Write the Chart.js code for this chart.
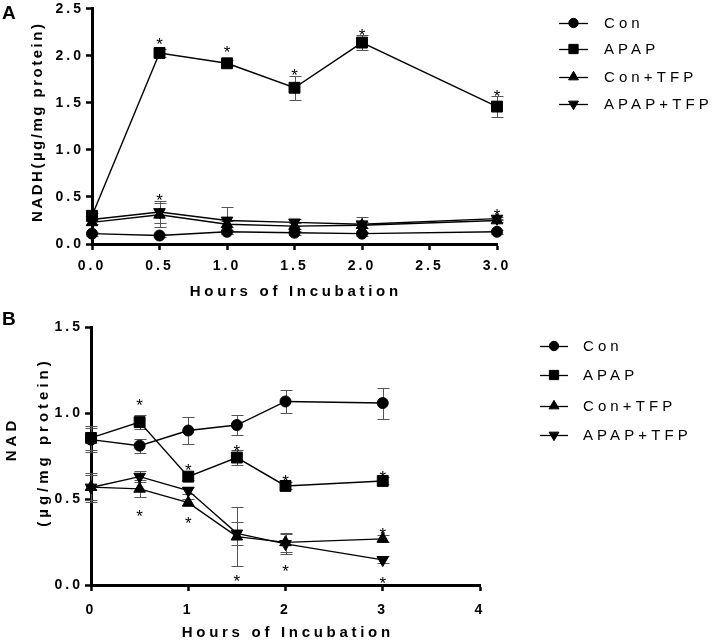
<!DOCTYPE html>
<html><head><meta charset="utf-8">
<script src="https://cdn.jsdelivr.net/npm/chart.js@4.4.0/dist/chart.umd.min.js"></script>
<style>
html,body{margin:0;padding:0;background:#fff;}
#wrap{position:relative;width:714px;height:644px;overflow:hidden;background:#fff;}
canvas{position:absolute;left:0;}
</style></head><body>
<div id="wrap">
<canvas id="cA" width="714" height="310" style="top:0px"></canvas>
<canvas id="cB" width="714" height="336" style="top:308px"></canvas>
</div>
<script>
// ---------- DATA ----------
const seriesNames = ['Con', 'APAP', 'Con+TFP', 'APAP+TFP'];

// Panel A : NADH
const hoursA = [0, 0.5, 1, 1.5, 2, 3];
const nadhCon        = [0.11, 0.09, 0.13, 0.12, 0.11, 0.13];
const nadhConErr     = [0.02, 0.02, 0.02, 0.02, 0.02, 0.02];
const nadhApap       = [0.30, 2.03, 1.92, 1.66, 2.14, 1.46];
const nadhApapErr    = [0.03, 0.04, 0.03, 0.125, 0.08, 0.11];
const nadhConTfp     = [0.23, 0.31, 0.21, 0.19, 0.20, 0.25];
const nadhConTfpErr  = [0.02, 0.13, 0.03, 0.03, 0.03, 0.02];
const nadhApapTfp    = [0.26, 0.34, 0.25, 0.23, 0.21, 0.27];
const nadhApapTfpErr = [0.02, 0.12, 0.14, 0.04, 0.08, 0.02];
const nadhStarX = [0.5, 1, 1.5, 2, 3, 0.5, 3];
const nadhStarY = [2.17, 2.08, 1.84, 2.26, 1.62, 0.51, 0.35];
const xTicksA = ['0.0', '0.5', '1.0', '1.5', '2.0', '2.5', '3.0'];
const yTicksA = ['0.0', '0.5', '1.0', '1.5', '2.0', '2.5'];

// Panel B : NAD
const hoursB = [0, 0.5, 1, 1.5, 2, 3];
const nadCon        = [0.845, 0.81, 0.898, 0.93, 1.067, 1.058];
const nadConErr     = [0.07, 0.04, 0.08, 0.06, 0.065, 0.09];
const nadApap       = [0.855, 0.947, 0.63, 0.741, 0.576, 0.605];
const nadApapErr    = [0.07, 0.04, 0.02, 0.045, 0.02, 0.02];
const nadConTfp     = [0.569, 0.559, 0.479, 0.281, 0.248, 0.268];
const nadConTfpErr  = [0.085, 0.05, 0.02, 0.17, 0.055, 0.02];
const nadApapTfp    = [0.567, 0.63, 0.549, 0.30, 0.239, 0.146];
const nadApapTfpErr = [0.07, 0.03, 0.02, 0.065, 0.06, 0.02];
const nadStarX = [0.5, 0.5, 1, 1, 1.5, 1.5, 2, 2, 3, 3, 3];
const nadStarY = [1.067, 0.423, 0.693, 0.382, 0.80, 0.048, 0.63, 0.107, 0.654, 0.32, 0.033];
const xTicksB = ['0', '1', '2', '3', '4'];
const yTicksB = ['0.0', '0.5', '1.0', '1.5'];

// ---------- STYLE ----------
const FAM = '"Liberation Sans", Arial, Helvetica, sans-serif';
const markers = [
  {pointStyle: 'circle', radius: 5.5, rotation: 0},
  {pointStyle: 'rect', radius: 7.7, rotation: 0},
  {pointStyle: 'triangle', radius: 6.7, rotation: 0},
  {pointStyle: 'triangle', radius: 6.7, rotation: 180}
];

function pts(xs, ys) { return xs.map((x, i) => ({x: x, y: ys[i]})); }
function makeDatasets(xs, list) {
  return list.map((ys, k) => ({
    label: seriesNames[k],
    data: pts(xs, ys),
    showLine: true,
    borderColor: '#000', borderWidth: 1.4, backgroundColor: '#000',
    pointStyle: markers[k].pointStyle,
    pointRadius: markers[k].radius,
    pointHoverRadius: markers[k].radius,
    pointRotation: markers[k].rotation,
    pointBackgroundColor: '#000', pointBorderColor: '#000', pointBorderWidth: 1,
    clip: false, tension: 0
  }));
}

function drawMarker(ctx, m, x, y, scale) {
  const r = m.radius * scale;
  ctx.save();
  ctx.fillStyle = '#000'; ctx.strokeStyle = '#000'; ctx.lineWidth = 1;
  ctx.beginPath();
  if (m.pointStyle === 'circle') {
    ctx.arc(x, y, r, 0, Math.PI * 2);
  } else if (m.pointStyle === 'rect') {
    const s = Math.SQRT1_2 * r;
    ctx.rect(x - s, y - s, 2 * s, 2 * s);
  } else {
    let rad = m.rotation * Math.PI / 180;
    for (let i = 0; i < 3; i++) {
      const px = x + Math.sin(rad) * r, py = y - Math.cos(rad) * r;
      if (i === 0) ctx.moveTo(px, py); else ctx.lineTo(px, py);
      rad += 2 * Math.PI / 3;
    }
    ctx.closePath();
  }
  ctx.fill(); ctx.stroke();
  ctx.restore();
}

const errPlugin = {
  id: 'errbars',
  beforeDatasetsDraw(chart, args, opts) {
    const ctx = chart.ctx, xs = chart.scales.x, ys = chart.scales.y;
    ctx.save();
    ctx.strokeStyle = '#555'; ctx.lineWidth = 1;
    opts.errs.forEach((errs, k) => {
      chart.data.datasets[k].data.forEach((p, i) => {
        const e = errs[i]; if (!e) return;
        const px = Math.round(xs.getPixelForValue(p.x)) + 0.5;
        const y1 = Math.round(ys.getPixelForValue(p.y + e)) + 0.5;
        const y2 = Math.round(ys.getPixelForValue(p.y - e)) + 0.5;
        ctx.beginPath();
        ctx.moveTo(px, y1); ctx.lineTo(px, y2);
        ctx.moveTo(px - 6, y1); ctx.lineTo(px + 6, y1);
        ctx.moveTo(px - 6, y2); ctx.lineTo(px + 6, y2);
        ctx.stroke();
      });
    });
    ctx.restore();
  }
};

const decoPlugin = {
  id: 'deco',
  beforeDraw(chart, args, opts) {
    chart.ctx.letterSpacing = opts.tickSpacing;
  },
  afterDraw(chart, args, opts) {
    const ctx = chart.ctx, xs = chart.scales.x, ys = chart.scales.y;
    ctx.save();
    // asterisks
    ctx.letterSpacing = '0px';
    ctx.fillStyle = '#000';
    ctx.font = '17px ' + FAM;
    ctx.textAlign = 'center'; ctx.textBaseline = 'alphabetic';
    opts.starX.forEach((sx, i) => {
      ctx.fillText('*', xs.getPixelForValue(sx), ys.getPixelForValue(opts.starY[i]) + 10);
    });
    // panel letter
    ctx.font = 'bold 19px ' + FAM;
    ctx.textAlign = 'left';
    ctx.fillText(opts.letter, opts.letterPos[0], opts.letterPos[1]);
    // x title
    ctx.font = 'bold 15px ' + FAM;
    ctx.letterSpacing = '3.7px';
    ctx.textAlign = 'center'; ctx.textBaseline = 'middle';
    ctx.fillText('Hours of Incubation', opts.xTitle[0] + 1.8, opts.xTitle[1]);
    // y title(s)
    opts.yTitles.forEach(t => {
      ctx.save();
      ctx.letterSpacing = t.sp;
      ctx.translate(t.x, t.y);
      ctx.rotate(-Math.PI / 2);
      ctx.fillText(t.text, parseFloat(t.sp) / 2, 0);
      ctx.restore();
    });
    // legend
    ctx.font = '15px ' + FAM;
    ctx.letterSpacing = '4.1px';
    ctx.textAlign = 'left'; ctx.textBaseline = 'middle';
    const L = opts.legend;
    seriesNames.forEach((name, k) => {
      const y = L.rows[k];
      ctx.strokeStyle = '#000'; ctx.lineWidth = 1.3;
      ctx.beginPath(); ctx.moveTo(L.x0, y + 0.5); ctx.lineTo(L.x1, y + 0.5); ctx.stroke();
      drawMarker(ctx, markers[k], (L.x0 + L.x1) / 2, y, 0.85);
      ctx.fillStyle = '#000';
      ctx.fillText(name, L.tx, y + 1);
    });
    ctx.restore();
  }
};

function axisCommon() {
  return {
    border: {display: true, color: '#000', width: 3},
    grid: {display: true, drawOnChartArea: false, drawTicks: true, tickLength: 6,
           tickWidth: 2.5, tickColor: '#000', color: '#000'}
  };
}

function makeChart(id, cfg) {
  return new Chart(document.getElementById(id), {
    type: 'scatter',
    data: {datasets: makeDatasets(cfg.xs, cfg.series)},
    options: {
      responsive: false, animation: false, devicePixelRatio: 1,
      layout: {padding: cfg.padding},
      plugins: {
        legend: {display: false}, tooltip: {enabled: false},
        errbars: {errs: cfg.errs},
        deco: cfg.deco
      },
      scales: {
        x: Object.assign(axisCommon(), {
          type: 'linear', min: cfg.xMin, max: cfg.xMax,
          afterFit: s => { s.height = cfg.xH; },
          ticks: {stepSize: cfg.xStep, padding: cfg.xPad, color: '#000',
                  font: {family: FAM, size: 14, weight: 'bold', lineHeight: 1.2},
                  maxRotation: 0, autoSkip: false,
                  callback: (v, i) => cfg.xTicks[i]}
        }),
        y: Object.assign(axisCommon(), {
          type: 'linear', min: 0, max: cfg.yMax,
          afterFit: s => { s.width = cfg.yW; },
          ticks: {stepSize: 0.5, padding: 2, color: '#000',
                  font: {family: FAM, size: 14, weight: 'bold', lineHeight: 0.7},
                  callback: (v, i) => cfg.yTicks[i]}
        })
      }
    },
    plugins: [errPlugin, decoPlugin]
  });
}

makeChart('cA', {
  xs: hoursA,
  series: [nadhCon, nadhApap, nadhConTfp, nadhApapTfp],
  errs: [nadhConErr, nadhApapErr, nadhConTfpErr, nadhApapTfpErr],
  padding: {top: 5, right: 217, bottom: 0, left: 0},
  xMin: 0, xMax: 3, xStep: 0.5, xTicks: xTicksA, xPad: 8, xH: 66,
  yMax: 2.5, yTicks: yTicksA, yW: 92,
  deco: {
    tickSpacing: '3px',
    starX: nadhStarX, starY: nadhStarY,
    letter: 'A', letterPos: [2, 19],
    xTitle: [294, 292],
    yTitles: [{text: 'NADH(µg/mg protein)', x: 38, y: 123, sp: '2.5px'}],
    legend: {x0: 559, x1: 588, tx: 604, rows: [23, 49, 77, 104]}
  }
});

makeChart('cB', {
  xs: hoursB,
  series: [nadCon, nadApap, nadConTfp, nadApapTfp],
  errs: [nadConErr, nadApapErr, nadConTfpErr, nadApapTfpErr],
  padding: {top: 19, right: 234, bottom: 0, left: 0},
  xMin: 0, xMax: 4, xStep: 1, xTicks: xTicksB, xPad: 11, xH: 59,
  yMax: 1.5, yTicks: yTicksB, yW: 91,
  deco: {
    tickSpacing: '3px',
    starX: nadStarX, starY: nadStarY,
    letter: 'B', letterPos: [2, 17],
    xTitle: [286, 325],
    yTitles: [{text: 'NAD', x: 12, y: 133, sp: '4px'},
              {text: '(µg/mg protein)', x: 44, y: 136, sp: '4px'}],
    legend: {x0: 540, x1: 568, tx: 583, rows: [38, 67, 98, 127]}
  }
});
</script>
</body></html>
